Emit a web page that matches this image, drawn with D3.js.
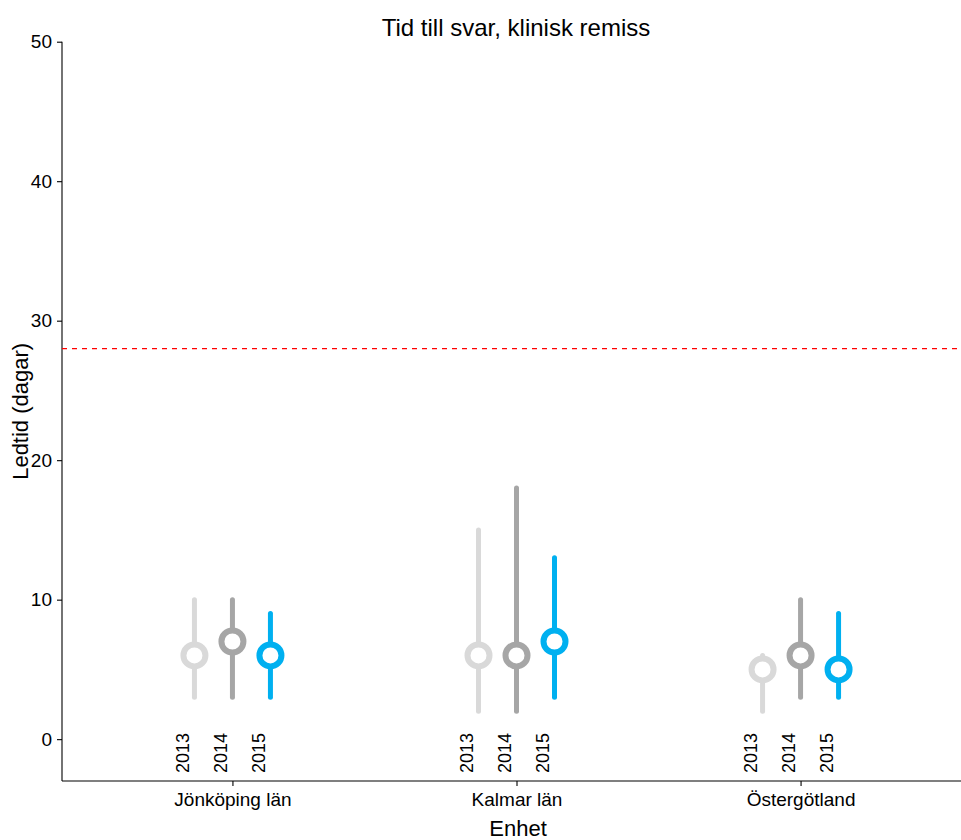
<!DOCTYPE html>
<html>
<head>
<meta charset="utf-8">
<script src="https://cdn.jsdelivr.net/npm/d3@7"></script>
<style>
body { margin: 0; background: #fff; }
text { font-family: "Liberation Sans", Arial, sans-serif; fill: #000; }
</style>
</head>
<body>
<div id="chart"></div>
<script>
// data
var units = ["Jönköping län", "Kalmar län", "Östergötland"];
var years = ["2013", "2014", "2015"];
var medians = [[6, 7, 6], [6, 6, 7], [5, 6, 5]];
var lows = [[3, 3, 3], [2, 2, 3], [2, 3, 3]];
var highs = [[10, 10, 9], [15, 18, 13], [6, 10, 9]];
var yTicks = [0, 10, 20, 30, 40, 50];
var target = 28;
var yearColors = ["#d9d9d9", "#a6a6a6", "#00b0f0"];

var W = 961, H = 840;
var plotLeft = 62, plotTop = 41.7, plotBottom = 781;

var svg = d3.select("#chart").append("svg")
	.attr("width", W)
	.attr("height", H);

// scales
var x = d3.scalePoint().domain(units).range([plotLeft, 971]).padding(0.6);
var off = d3.scalePoint().domain(years).range([-38, 38]);
var y = d3.scaleLinear().domain([-3, 50]).range([plotBottom, plotTop]);

// axes
var yAxis = svg.append("g")
	.attr("transform", "translate(" + plotLeft + ",0)")
	.call(d3.axisLeft(y).tickValues(yTicks).tickSize(5).tickPadding(5));
yAxis.select(".domain").attr("d", "M0," + y(50) + "V" + plotBottom);

var xAxis = svg.append("g")
	.attr("transform", "translate(0," + plotBottom + ")")
	.call(d3.axisBottom(x).tickSize(5).tickPadding(6.5));
xAxis.select(".domain").attr("d", "M" + plotLeft + ",0H" + W);

svg.selectAll(".domain, .tick line").attr("stroke", "#000").attr("stroke-width", 1.1);
svg.selectAll(".tick text").style("font-size", "19px").attr("fill", "#000");

// target line
svg.append("line")
	.attr("x1", plotLeft)
	.attr("x2", W)
	.attr("y1", y(target))
	.attr("y2", y(target))
	.attr("stroke", "red")
	.attr("stroke-width", 1.3)
	.attr("stroke-dasharray", "5,5");

// one range + median per unit and year
units.forEach(function(u, i) {
	years.forEach(function(yr, j) {
		var cx = x(u) + off(yr);
		svg.append("line")
			.attr("x1", cx).attr("x2", cx)
			.attr("y1", y(lows[i][j]))
			.attr("y2", y(highs[i][j]))
			.attr("stroke", yearColors[j])
			.attr("stroke-width", 5)
			.attr("stroke-linecap", "round");
		svg.append("circle")
			.attr("cx", cx)
			.attr("cy", y(medians[i][j]))
			.attr("r", 11)
			.attr("fill", "#fff")
			.attr("stroke", yearColors[j])
			.attr("stroke-width", 6);
		svg.append("text")
			.attr("transform", "translate(" + (cx - 5.5) + ",773) rotate(-90)")
			.style("font-size", "18px")
			.text(yr);
	});
});

// title and axis labels
svg.append("text")
	.attr("x", 516)
	.attr("y", 36)
	.attr("text-anchor", "middle")
	.style("font-size", "24px")
	.text("Tid till svar, klinisk remiss");

svg.append("text")
	.attr("x", 518)
	.attr("y", 836)
	.attr("text-anchor", "middle")
	.style("font-size", "22px")
	.text("Enhet");

svg.append("text")
	.attr("transform", "translate(28," + ((plotTop + plotBottom) / 2) + ") rotate(-90)")
	.attr("text-anchor", "middle")
	.style("font-size", "22px")
	.text("Ledtid (dagar)");
</script>
</body>
</html>
